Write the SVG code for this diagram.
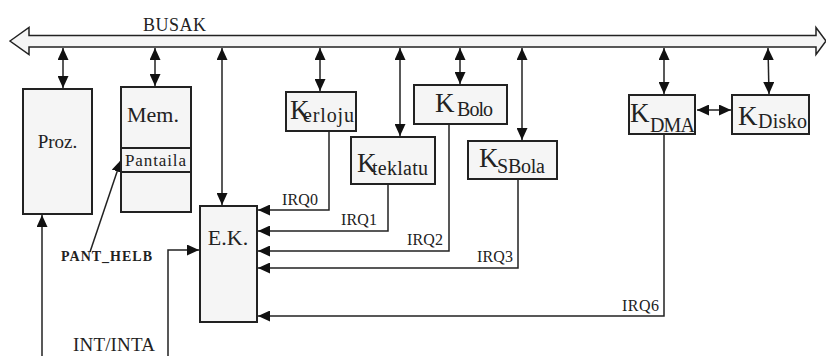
<svg xmlns="http://www.w3.org/2000/svg" width="826" height="356" viewBox="0 0 826 356">
<style>
.box{fill:#f5f5f5;stroke:#222;stroke-width:2}
.ln{fill:none;stroke:#222;stroke-width:1.5}
.t{font-family:"Liberation Serif","Times New Roman",serif;fill:#222}
.big{font-size:27px}
.sub{font-size:20px}
.lbl{font-size:16px}
</style>
<defs>
<marker id="ah" viewBox="0 0 12 11" refX="12" refY="5.5" markerWidth="12" markerHeight="11" markerUnits="userSpaceOnUse" orient="auto-start-reverse">
<path d="M0,0 L12,5.5 L0,11 z" fill="#111"/>
</marker>
</defs>
<g id="bus">
<path d="M10,41 L29,27.5 L29,35.5 L816,35.5 L816,27.5 L826,41 L816,54.5 L816,47 L29,47 L29,54.5 Z" fill="#f5f5f5" stroke="#222" stroke-width="1.5"/>
<text class="t" x="143" y="31" font-size="18" textLength="63">BUSAK</text>
</g>
<g id="connectors">
<line class="ln" x1="63" y1="48" x2="63" y2="88" marker-start="url(#ah)" marker-end="url(#ah)"/>
<line class="ln" x1="155" y1="48" x2="155" y2="86" marker-start="url(#ah)" marker-end="url(#ah)"/>
<line class="ln" x1="222" y1="48" x2="222" y2="205" marker-start="url(#ah)" marker-end="url(#ah)"/>
<line class="ln" x1="320" y1="48" x2="320" y2="91" marker-start="url(#ah)" marker-end="url(#ah)"/>
<line class="ln" x1="400" y1="48" x2="400" y2="136" marker-start="url(#ah)" marker-end="url(#ah)"/>
<line class="ln" x1="460" y1="48" x2="460" y2="84" marker-start="url(#ah)" marker-end="url(#ah)"/>
<line class="ln" x1="522" y1="48" x2="522" y2="140" marker-start="url(#ah)" marker-end="url(#ah)"/>
<line class="ln" x1="664" y1="48" x2="664" y2="94" marker-start="url(#ah)" marker-end="url(#ah)"/>
<line class="ln" x1="768" y1="48" x2="769" y2="94" marker-start="url(#ah)" marker-end="url(#ah)"/>
<line class="ln" x1="697" y1="110" x2="731" y2="110" marker-start="url(#ah)" marker-end="url(#ah)"/>
<polyline class="ln" points="329,131 329,210 258,210" marker-end="url(#ah)"/>
<polyline class="ln" points="388,184 388,231 258,231" marker-end="url(#ah)"/>
<polyline class="ln" points="449,124 449,251 258,251" marker-end="url(#ah)"/>
<polyline class="ln" points="518,179 518,268 258,268" marker-end="url(#ah)"/>
<polyline class="ln" points="664,134 664,316 258,316" marker-end="url(#ah)"/>
<line class="ln" x1="90" y1="252" x2="121" y2="160" marker-end="url(#ah)"/>
<line class="ln" x1="42" y1="356" x2="42" y2="215" marker-end="url(#ah)"/>
<polyline class="ln" points="168,356 168,250 199,250" marker-end="url(#ah)"/>
<text class="t lbl" x="282" y="205" textLength="36">IRQ0</text>
<text class="t lbl" x="341" y="225" textLength="36">IRQ1</text>
<text class="t lbl" x="407" y="245" textLength="36">IRQ2</text>
<text class="t lbl" x="477" y="262" textLength="36">IRQ3</text>
<text class="t lbl" x="622" y="311" textLength="37">IRQ6</text>
<text class="t" x="61" y="261" font-size="14" font-weight="bold" textLength="91">PANT_HELB</text>
<text class="t" x="73" y="351" font-size="19" textLength="82">INT/INTA</text>
</g>
<g id="proz">
<rect class="box" x="23" y="89" width="69" height="125"/>
<text class="t" x="57.5" y="148" font-size="19" text-anchor="middle">Proz.</text>
</g>
<g id="mem">
<rect class="box" x="121" y="87" width="70" height="125"/>
<rect class="box" x="121" y="148" width="70" height="24"/>
<text class="t" x="153" y="122" font-size="22" text-anchor="middle">Mem.</text>
<text class="t" x="125" y="166" font-size="17" textLength="61">Pantaila</text>
</g>
<g id="ek">
<rect class="box" x="200" y="206" width="57" height="116"/>
<text class="t" x="228" y="245" font-size="22" text-anchor="middle">E.K.</text>
</g>
<g id="kerloju">
<rect class="box" x="286" y="92" width="70" height="39"/>
<text class="t big" x="290" y="119">K</text>
<text class="t sub" x="303" y="122" textLength="51">erloju</text>
</g>
<g id="kteklatu">
<rect class="box" x="351" y="137" width="84" height="47"/>
<text class="t big" x="357" y="172">K</text>
<text class="t sub" x="372" y="175" textLength="56">teklatu</text>
</g>
<g id="kbolo">
<rect class="box" x="414" y="85" width="93" height="39"/>
<text class="t big" x="435" y="112">K</text>
<text class="t sub" x="457" y="116" textLength="36">Bolo</text>
</g>
<g id="ksbola">
<rect class="box" x="468" y="141" width="89" height="38"/>
<text class="t big" x="479" y="167">K</text>
<text class="t sub" x="497" y="173" textLength="48">SBola</text>
</g>
<g id="kdma">
<rect class="box" x="629" y="95" width="66" height="39"/>
<text class="t big" x="630" y="122">K</text>
<text class="t sub" x="650" y="132" textLength="45">DMA</text>
</g>
<g id="kdisko">
<rect class="box" x="732" y="95" width="77" height="39"/>
<text class="t big" x="738" y="125">K</text>
<text class="t sub" x="758" y="128" textLength="49">Disko</text>
</g>
</svg>
